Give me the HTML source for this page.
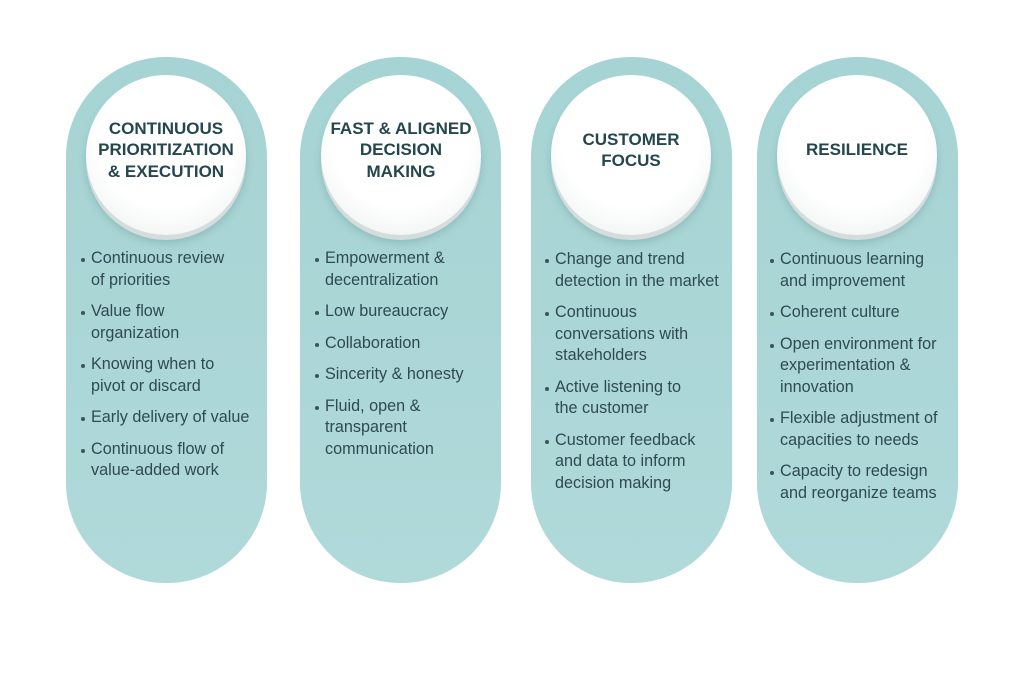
<!DOCTYPE html>
<html><head><meta charset="utf-8"><style>
body{margin:0;width:1024px;height:683px;background:#fff;position:relative;overflow:hidden;font-family:"Liberation Sans",sans-serif;}
.pill{position:absolute;top:57px;width:201px;height:526px;border-radius:100px;background:linear-gradient(#a6d3d3,#b0d9da);}
.circ{position:absolute;width:160px;height:160px;border-radius:50%;background:radial-gradient(circle at 50% 40%,#ffffff 55%,#f0f2f2 85%,#e2e6e6);box-shadow:0 5px 0 #d5dcdc,0 8px 8px rgba(60,110,110,.25);display:flex;align-items:center;justify-content:center;text-align:center;color:#24474e;font-weight:bold;font-size:17px;line-height:21.5px;}
.circ span{display:block;margin-top:-10px}
ul{position:absolute;top:248px;margin:0;padding:0 0 0 12px;list-style:none;color:#2f4a50;font-size:16.2px;line-height:21.5px;white-space:nowrap;}
li{position:relative;margin-bottom:10px;}
li:before{content:"";position:absolute;left:-10px;top:10px;width:4px;height:4px;border-radius:50%;background:#3a5458;}
</style></head><body>
<div class="pill" style="left:66px"></div>
<div class="pill" style="left:300px"></div>
<div class="pill" style="left:531px"></div>
<div class="pill" style="left:757px"></div>

<div class="circ" style="left:86px;top:75px"><span>CONTINUOUS<br>PRIORITIZATION<br>&amp; EXECUTION</span></div>
<div class="circ" style="left:321px;top:75px"><span>FAST &amp; ALIGNED<br>DECISION<br>MAKING</span></div>
<div class="circ" style="left:551px;top:75px"><span>CUSTOMER<br>FOCUS</span></div>
<div class="circ" style="left:777px;top:75px"><span>RESILIENCE</span></div>

<ul style="left:79px"><li>Continuous review<br>of priorities</li><li>Value flow<br>organization</li><li>Knowing when to<br>pivot or discard</li><li>Early delivery of value</li><li>Continuous flow of<br>value-added work</li></ul>
<ul style="left:313px"><li>Empowerment &amp;<br>decentralization</li><li>Low bureaucracy</li><li>Collaboration</li><li>Sincerity &amp; honesty</li><li>Fluid, open &amp;<br>transparent<br>communication</li></ul>
<ul style="left:543px;top:249px"><li>Change and trend<br>detection in the market</li><li>Continuous<br>conversations with<br>stakeholders</li><li>Active listening to<br>the customer</li><li>Customer feedback<br>and data to inform<br>decision making</li></ul>
<ul style="left:768px;top:249px"><li>Continuous learning<br>and improvement</li><li>Coherent culture</li><li>Open environment for<br>experimentation &amp;<br>innovation</li><li>Flexible adjustment of<br>capacities to needs</li><li>Capacity to redesign<br>and reorganize teams</li></ul>
</body></html>
